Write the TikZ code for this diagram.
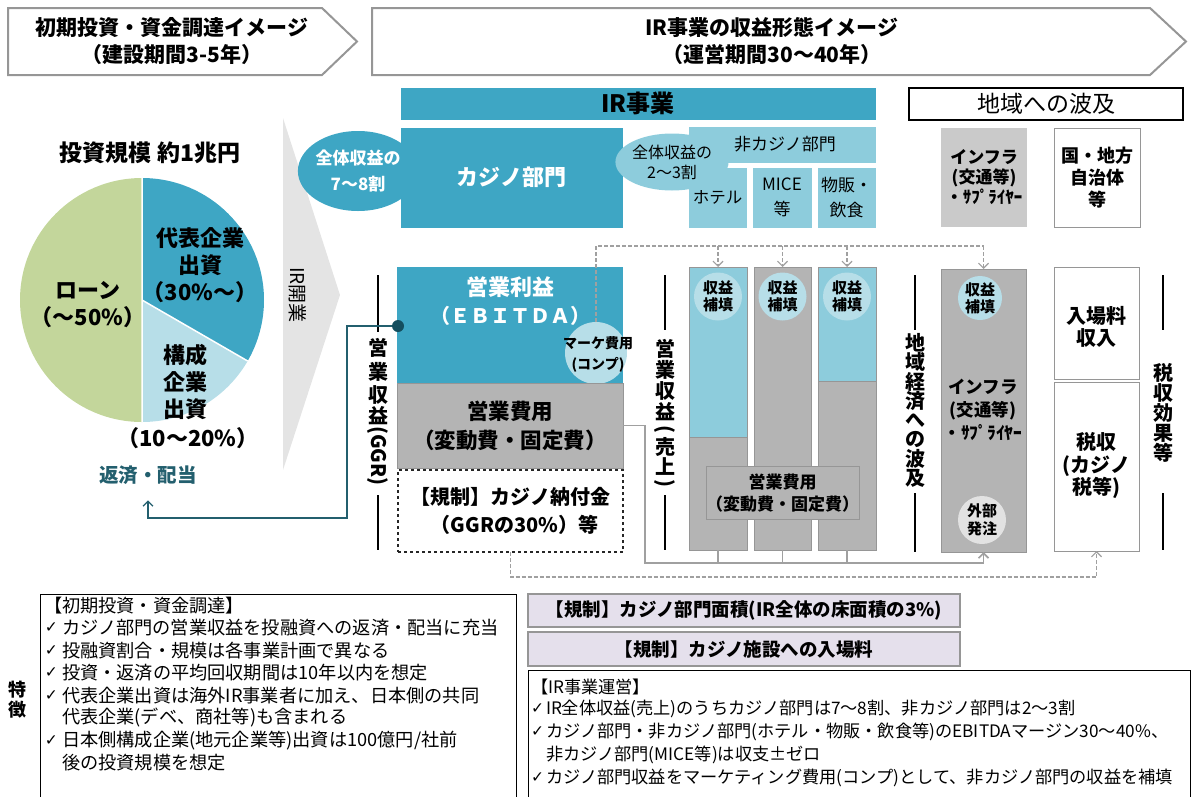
\documentclass[tikz,border=0pt]{standalone}
\usepackage{fontspec}
\setmainfont{Noto Sans CJK JP}
\newfontfamily\dvfont{DejaVu Sans}
\usetikzlibrary{arrows.meta,shapes.geometric}
\definecolor{tealA}{RGB}{62,166,196}
\definecolor{ltblueA}{RGB}{141,204,220}
\definecolor{paleA}{RGB}{183,222,232}
\definecolor{greenA}{RGB}{195,214,155}
\definecolor{grayA}{RGB}{180,180,180}
\definecolor{grayB}{RGB}{150,150,150}
\definecolor{grayC}{RGB}{202,202,202}
\definecolor{grayD}{RGB}{226,226,226}
\definecolor{grayE}{RGB}{228,228,228}
\definecolor{lavA}{RGB}{229,224,236}
\definecolor{dtealA}{RGB}{35,95,110}
\definecolor{dtealB}{RGB}{20,78,94}
\definecolor{connA}{RGB}{160,160,160}
\newcommand\fs[2]{\fontsize{#1pt}{#2pt}\selectfont}
\newcommand\ck{{\dvfont\fontsize{15.5pt}{15.5pt}\selectfont ✓}}
\begin{document}
\begin{tikzpicture}[x=1pt,y=-1pt,
  every node/.style={inner sep=0pt, outer sep=0pt},
  hdrline/.style={draw=grayB, line width=2pt, line join=miter},
  hdr/.style={font=\bfseries\fs{21}{27}, align=center},
  tealbox/.style={fill=tealA, draw=white, line width=0.8pt},
  ltbox/.style={fill=ltblueA, draw=white, line width=0.8pt},
  graybox/.style={fill=grayA, draw=grayB, line width=1pt},
  whitebox/.style={fill=white, draw=grayB, line width=1pt},
  vt/.style={font=\bfseries\fs{20}{20}},
  vline/.style={draw=black, line width=1.1pt},
  pietxt/.style={font=\bfseries\fs{22}{27}, align=center},
  dashconn/.style={draw=connA, line width=1.2pt, dash pattern=on 4pt off 2pt},
  costline/.style={draw=connA, line width=1.6pt},
  barb/.style={-{Straight Barb[length=5pt,width=10pt]}},
  lst/.style={anchor=west, font=\fs{18.2}{18}},
  rst/.style={anchor=west, font=\fs{17.2}{17}},
  ckl/.style={anchor=west},
]
\useasboundingbox (0,0) rectangle (1192,796);

% ---------- headers
\draw[hdrline] (8,8) -- (322,8) -- (357,41.5) -- (322,75) -- (8,75) -- cycle;
\node[hdr] (h1) at (172,41.5) {初期投資・資金調達イメージ\\（建設期間3-5年）};
\draw[hdrline] (372,8) -- (1150,8) -- (1186,41.5) -- (1150,75) -- (372,75) -- cycle;
\node[hdr] (h2) at (772,41.5) {IR事業の収益形態イメージ\\（運営期間30～40年）};

% ---------- IR open arrow
\fill[grayE] (283,118) -- (340,295) -- (283,470) -- cycle;
\node[rotate=-90, font=\fs{19}{19}] (open) at (298,295) {IR開業};

% ---------- pie
\node[font=\bfseries\fs{23}{23}] (inv) at (150,153) {投資規模 約1兆円};
\coordinate (pc) at (142,300);
\fill[greenA] (pc) -- ++(0,-122) arc[start angle=90, end angle=270, radius=122pt] -- cycle;
\fill[tealA] (pc) -- ++(0,-122) arc[start angle=90, end angle=-30, radius=122pt] -- cycle;
\fill[paleA] (pc) -- ++(-30:122pt) arc[start angle=-30, end angle=-90, radius=122pt] -- cycle;
\draw[white, line width=1.5pt] (pc) -- ++(0,-122) (pc) -- ++(0,122) (pc) -- ++(-30:122pt);
\node[pietxt] (p1) at (200,265) {代表企業\\出資\\（30\%～）};
\node[pietxt] (p2) at (88,305) {ローン\\（～50\%）};
\node[pietxt] (p3) at (185,381.5) {構成\\企業\\出資};
\node[pietxt] (p4) at (188,438) {（10～20\%）};
\node[font=\bfseries\fs{19.5}{19.5}, text=dtealA] (repay) at (148,475) {返済・配当};

% ---------- IR business top
\node[tealbox, minimum width=476pt, minimum height=33pt, font=\bfseries\fs{24}{24}] (ir) at (638,103.5) {IR事業};
\node[tealbox, minimum width=223pt, minimum height=101pt, font=\bfseries\fs{22}{22}, text=white] (casino) at (511.5,177.5) {カジノ部門};
\node[ellipse, fill=tealA, minimum width=100pt, minimum height=80pt, font=\bfseries\fs{17}{25}, text=white, align=center] (e1) at (358,171) {全体収益の\\7～8割};
\node[ltbox, minimum width=188pt, minimum height=37pt, font=\fs{17}{17}] (noncas) at (782,144.5) {\hspace*{6pt}非カジノ部門};
\node[ltbox, minimum width=59pt, minimum height=61pt, font=\fs{16.5}{25}, align=center] (hotel) at (717.5,197.5) {ホテル};
\node[ltbox, minimum width=60pt, minimum height=61pt, font=\fs{17}{25}, align=center] (mice) at (782,197.5) {MICE\\等};
\node[ltbox, minimum width=59pt, minimum height=61pt, font=\fs{17}{25}, align=center] (shop) at (846.5,197.5) {物販・\\飲食};
\node[ellipse, fill=ltblueA, minimum width=102pt, minimum height=57pt, font=\fs{16}{20}, align=center] (e2) at (672,162) {全体収益の\\2～3割};

% ---------- regional
\node[draw=black, line width=2pt, minimum width=274pt, minimum height=32pt, font=\fs{23}{23}] (reg) at (1046,104) {地域への波及};
\node[fill=grayC, minimum width=86pt, minimum height=99pt, font=\bfseries\fs{17}{20}, align=center] (infra1) at (984,177.5) {インフラ\\(交通等)\\{\fs{17}{20}・ｻﾌﾟﾗｲﾔｰ}};
\node[whitebox, minimum width=86pt, minimum height=99pt, font=\bfseries\fs{18}{22}, align=center] (gov) at (1097,177.5) {国・地方\\自治体\\等};

% ---------- casino P/L
\node[fill=tealA, minimum width=226pt, minimum height=116pt] (ebitda) at (510,325) {};
\node[font=\bfseries\fs{22}{28}, text=white, align=center] (ebt) at (510,301) {営業利益\\{\fs{20}{28}（ＥＢＩＴＤＡ）}};
\node[circle, fill=paleA, minimum size=62pt] (mkt) at (596,353) {};
\node[font=\bfseries\fs{14}{21}, align=center] (mktt) at (598,354) {マーケ費用\\(コンプ)};
\node[fill=grayA, draw=grayB, line width=0.8pt, minimum width=226pt, minimum height=85pt, font=\bfseries\fs{21.5}{29}, align=center] (cost) at (510,425.5) {営業費用\\（変動費・固定費）};
\node[draw=black!85, dashed, line width=1.1pt, minimum width=225pt, minimum height=82pt, font=\bfseries\fs{20}{28}, align=center] (levy) at (510.5,511) {【規制】カジノ納付金\\\hspace*{8pt}（GGRの30\%）等};

% ---------- vertical label GGR
\foreach \c/\yy [count=\i] in {営/348,業/372,収/395,益/416} \node[vt] (ga\i) at (378,\yy) {\c};
\node[vt, rotate=-90] (ga5) at (378,456) {(GGR)};
\draw[vline] (378,275) -- (378,332) (378,495) -- (378,550);

% ---------- non-casino bars
\node[graybox, minimum width=58pt, minimum height=283pt, anchor=north] (b1) at (718,267) {};
\node[fill=ltblueA, draw=grayB, line width=1pt, minimum width=58pt, minimum height=170pt, anchor=north] (b1t) at (b1.north) {};
\node[graybox, minimum width=57pt, minimum height=283pt, anchor=north] (b2) at (782.5,267) {};
\node[graybox, minimum width=58pt, minimum height=283pt, anchor=north] (b3) at (847,267) {};
\node[fill=ltblueA, draw=grayB, line width=1pt, minimum width=58pt, minimum height=114pt, anchor=north] (b3t) at (b3.north) {};
\foreach \xx [count=\i] in {718,782.5,847}
  \node[circle, fill=paleA, minimum size=48pt, font=\bfseries\fs{15}{17}, align=center] (c\i) at (\xx,296.5) {収益\\補填};
\node[graybox, minimum width=153pt, minimum height=53pt, font=\bfseries\fs{17}{22}, align=center] (cost2) at (782.5,493) {営業費用\\（変動費・固定費）};

% ---------- vertical label sales
\foreach \c/\yy [count=\i] in {営/349,業/370,収/391,益/412,売/447,上/467} \node[vt] (gb\i) at (665,\yy) {\c};
\node[vt, rotate=-90] (gb7) at (665,429) {(};
\node[vt, rotate=-90] (gb8) at (665,483) {)};
\draw[vline] (665,275) -- (665,330) (665,495) -- (665,550);

% ---------- vertical label regional
\foreach \c [count=\i from 0] in {地,域,経,済,へ,の,波,及} \node[vt] (gc\i) at (915,343+19.3*\i) {\c};
\draw[vline] (915,275) -- (915,330) (915,493) -- (915,552);

% ---------- infra bar
\node[graybox, minimum width=85pt, minimum height=283pt] (infra2) at (983.5,410.5) {};
\node[circle, fill=paleA, minimum size=44pt, font=\bfseries\fs{15}{17}, align=center] (c4) at (980,298) {収益\\補填};
\node[font=\bfseries\fs{17.5}{23}, align=center] (infrat) at (983,410) {インフラ\\(交通等)\\{\fs{17.5}{23}・ｻﾌﾟﾗｲﾔｰ}};
\node[circle, fill=grayD, minimum size=48pt, font=\bfseries\fs{15}{18}, align=center] (ext) at (982,520) {外部\\発注};

% ---------- tax boxes
\node[whitebox, minimum width=85pt, minimum height=112pt] (fee) at (1096.5,323) {};
\node[font=\bfseries\fs{20}{22}, align=center] (feet) at (1096.5,327) {入場料\\収入};
\node[whitebox, minimum width=85pt, minimum height=169pt] (tax) at (1096.5,466.5) {};
\node[font=\bfseries\fs{20}{22.5}, align=center] (taxt) at (1096.5,465.5) {税収\\(カジノ\\税等)};
\foreach \c [count=\i from 0] in {税,収,効,果,等} \node[vt] (gd\i) at (1163,373+20*\i) {\c};
\draw[vline] (1163,275) -- (1163,330) (1163,493) -- (1163,550);

% ---------- connectors
\coordinate (dl) at (0,246);
\draw[dashconn] (mkt.north) |- (infra2.north |- dl);
\foreach \b in {b1,b2,b3,infra2} \draw[dashconn, barb] (\b.north |- dl) -- (\b.north);
\coordinate (cl) at (645,563);
\foreach \b in {b1,b2,b3} \draw[costline] (\b.south) -- (\b.south |- cl);
\draw[costline, barb] (cost.east) -| (cl) -| (infra2.south);
\coordinate (ll) at (0,577);
\draw[dashconn, barb] (levy.south) |- (tax.south |- ll) -- (tax.south);
\node[circle, fill=dtealB, minimum size=12pt] (dot) at (398,326) {};
\draw[dtealA, line width=1.2pt, barb] (dot.west) -- (347,326) -- (347,518) -| ([yshift=-16pt]repay.south);

% ---------- bottom left
\node[font=\bfseries\fs{18}{20}, align=center] (feat) at (18,700) {特\\徴};
\draw[line width=1pt] (40,797) -- (40,594) -- (516,594) -- (516,797);
\node[lst] (l0) at (44,606) {【初期投資・資金調達】};
\foreach \t/\yy [count=\i] in {{カジノ部門の営業収益を投融資への返済・配当に充当}/628,{投融資割合・規模は各事業計画で異なる}/651,{投資・返済の平均回収期間は10年以内を想定}/673,{代表企業出資は海外IR事業者に加え、日本側の共同}/696,{日本側構成企業(地元企業等)出資は100億円/社前}/741}
  {\node[ckl] (lk\i) at (45,\yy) {\ck}; \node[lst] (l\i) at (62,\yy) {\t};}
\node[lst] (l6) at (62,718) {代表企業(デベ、商社等)も含まれる};
\node[lst] (l7) at (62,763) {後の投資規模を想定};

% ---------- bottom right
\node[fill=lavA, draw=grayB, line width=1.2pt, minimum width=432pt, minimum height=33pt, font=\bfseries\fs{18.5}{18.5}] (reg1) at (744,610.5) {【規制】カジノ部門面積(IR全体の床面積の3\%)};
\node[fill=lavA, draw=grayB, line width=1.2pt, minimum width=432pt, minimum height=34pt, font=\bfseries\fs{18.5}{18.5}] (reg2) at (744,649) {【規制】カジノ施設への入場料};
\draw[line width=1pt] (528,797) -- (528,670) -- (1190,670) -- (1190,797);
\node[rst] (r0) at (531,687) {【IR事業運営】};
\foreach \t/\yy [count=\i] in {{IR全体収益(売上)のうちカジノ部門は7～8割、非カジノ部門は2～3割}/709,{カジノ部門・非カジノ部門(ホテル・物販・飲食等)のEBITDAマージン30～40\%、}/732,{カジノ部門収益をマーケティング費用(コンプ)として、非カジノ部門の収益を補填}/778}
  {\node[ckl] (rk\i) at (531,\yy) {\ck}; \node[rst] (r\i) at (546,\yy) {\t};}
\node[rst] (r4) at (546,755) {非カジノ部門(MICE等)は収支±ゼロ};
\end{tikzpicture}
\end{document}
